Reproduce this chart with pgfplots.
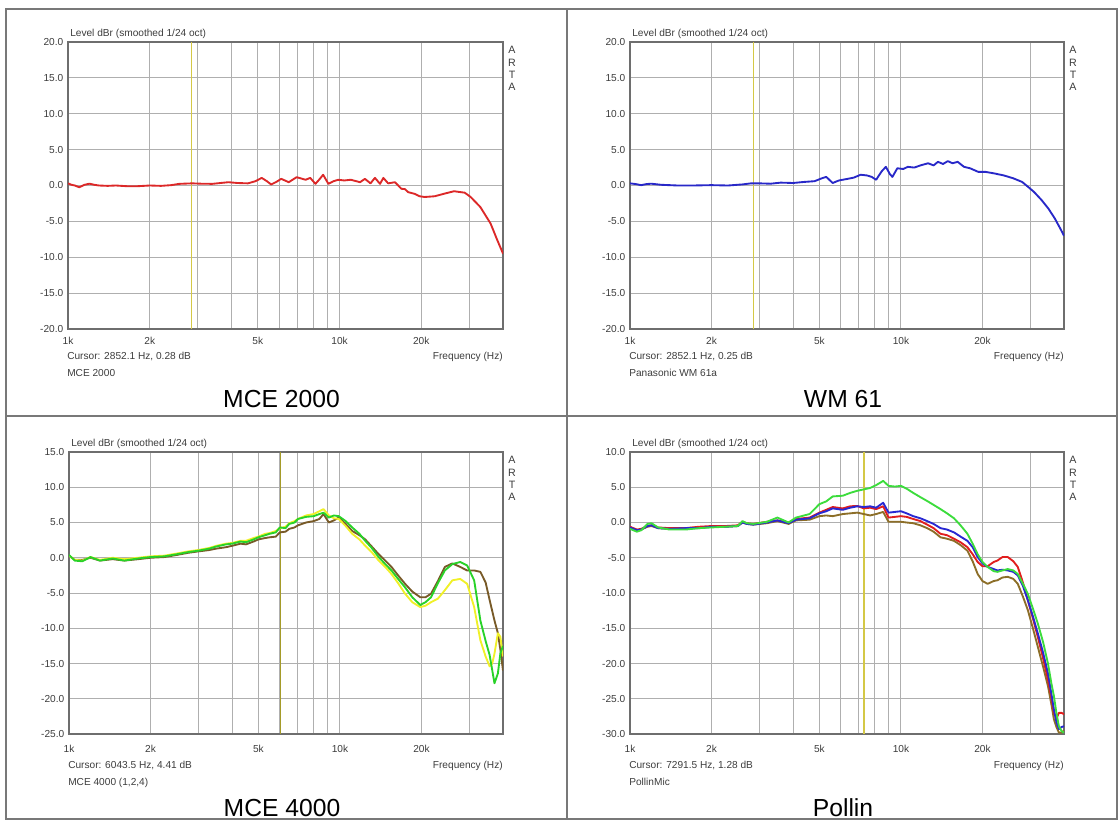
\documentclass[border=0pt]{standalone}
\usepackage{fontspec}
\setmainfont{Liberation Sans}
\usepackage{pgfplots}
\pgfplotsset{compat=1.18}
\def\pu{0.75pt}
\definecolor{axcol}{RGB}{110,110,110}
\definecolor{gridcol}{RGB}{175,175,175}
\definecolor{txtcol}{RGB}{60,60,60}
\definecolor{framecol}{RGB}{120,120,120}
\definecolor{curA}{RGB}{212,200,70}
\definecolor{curB}{RGB}{165,155,40}
\definecolor{redA}{RGB}{220,40,40}
\definecolor{blueA}{RGB}{40,40,200}
\definecolor{yelC}{RGB}{240,240,40}
\definecolor{grnC}{RGB}{40,210,40}
\definecolor{brnC}{RGB}{120,90,40}
\definecolor{grnD}{RGB}{60,220,60}
\definecolor{bluD}{RGB}{40,40,210}
\definecolor{redD}{RGB}{225,30,30}
\definecolor{brnD}{RGB}{140,110,40}
\newcommand{\smallfont}{\fontsize{7.6}{9}\selectfont}
\newcommand{\capfont}{\fontsize{18.5}{20}\selectfont}
\pgfplotsset{
  every axis/.append style={
    xmode=log, xmin=1000, xmax=40000,
    scale only axis, anchor=north west,
    axis line style={draw=axcol, line width=1.1pt},
    grid=major, major grid style={gridcol, line width=0.7pt},
    major tick length=0pt, minor tick length=0pt,
    xtick={1000,2000,3000,4000,5000,6000,7000,8000,9000,10000,20000,30000},
    xticklabels={1k,2k,,,5k,,,,,10k,20k,},
    ticklabel style={font=\smallfont, text=txtcol},
    clip mode=individual,
  },
  every axis plot/.append style={line width=1.4pt, line join=round},
}
\newcommand{\artanotes}[4]{%
  \node[anchor=base west, inner sep=0, font=\smallfont, text=txtcol] at (rel axis cs:0,1) [xshift=2*\pu, yshift=6*\pu] {Level dBr (smoothed 1/24 oct)};
  \node[anchor=north, inner sep=0, font=\fontsize{8}{9.3}\selectfont, text=txtcol, align=center] at (rel axis cs:1,1) [xshift=9*\pu, yshift=-4*\pu] {A\\R\\T\\A};
  \node[anchor=base west, inner sep=0, font=\smallfont, text=txtcol] at (rel axis cs:0,0) [xshift=-1*\pu, yshift=-#4*\pu] {#1};
  \node[anchor=base east, inner sep=0, font=\smallfont, text=txtcol] at (rel axis cs:1,0) [yshift=-#4*\pu] {Frequency (Hz)};
  \node[anchor=base west, inner sep=0, font=\smallfont, text=txtcol] at (rel axis cs:0,0) [xshift=-1*\pu, yshift=-#4*\pu-17*\pu] {#2};
  \node[anchor=base, inner sep=0, font=\capfont, text=black] at (rel axis cs:0.5,0) [xshift=-4*\pu, yshift=-#4*\pu-48*\pu] {#3};
}
\begin{document}
\begin{tikzpicture}
\path[use as bounding box] (0,0) rectangle (1119*\pu,-821*\pu);
\draw[framecol, line width=1.5*\pu] (6*\pu,-9*\pu) rectangle (1117*\pu,-819*\pu);
\draw[framecol, line width=1.5*\pu] (567*\pu,-9*\pu) -- (567*\pu,-819*\pu);
\draw[framecol, line width=1.5*\pu] (6*\pu,-416*\pu) -- (1117*\pu,-416*\pu);

% ---------------- MCE 2000
\begin{axis}[at={(68*\pu,-42*\pu)}, width=435*\pu, height=287*\pu,
  ymin=-20, ymax=20, ytick={-20,-15,...,20},
  yticklabels={-20.0,-15.0,-10.0,-5.0,0.0,5.0,10.0,15.0,20.0},
  xticklabel style={yshift=-2.5pt}]
\addplot[curA, line width=1.6*\pu] coordinates {(2852.1,-20) (2852.1,20)};
\addplot[redA] table {
1000 0.3
1030 0.1
1060 0.0
1100 -0.25
1150 0.1
1200 0.25
1250 0.1
1300 0.0
1400 -0.05
1500 0.0
1650 -0.1
1800 -0.1
2000 0.0
2200 -0.05
2400 0.05
2570 0.23
2870 0.3
3100 0.25
3400 0.23
3650 0.35
3900 0.46
4200 0.35
4600 0.3
4900 0.6
5170 1.06
5400 0.6
5600 0.14
5850 0.5
6100 0.93
6500 0.46
6950 1.16
7500 0.8
7800 1.06
8150 0.23
8450 0.9
8700 1.5
9100 0.23
9500 0.6
9900 0.8
10400 0.7
11000 0.8
11900 0.46
12400 0.93
13000 0.3
13500 1.06
14100 0.23
14500 1.06
15100 0.3
16000 0.46
16900 -0.46
17400 -0.5
17900 -0.93
18900 -1.16
19700 -1.5
20600 -1.6
22400 -1.5
24200 -1.16
26400 -0.8
28900 -1.0
30400 -1.6
33000 -3.0
36000 -5.3
38000 -7.5
40000 -9.5
};
\artanotes{Cursor: 2852.1 Hz, 0.28 dB}{MCE 2000}{MCE 2000}{30}
\end{axis}

% ---------------- WM 61
\begin{axis}[at={(630*\pu,-42*\pu)}, width=434*\pu, height=287*\pu,
  ymin=-20, ymax=20, ytick={-20,-15,...,20},
  yticklabels={-20.0,-15.0,-10.0,-5.0,0.0,5.0,10.0,15.0,20.0},
  xticklabel style={yshift=-2.5pt}]
\addplot[curA, line width=1.6*\pu] coordinates {(2852.1,-20) (2852.1,20)};
\addplot[blueA] table {
1000 0.3
1050 0.2
1100 0.05
1150 0.2
1200 0.25
1300 0.1
1500 0.0
1700 0.0
2000 0.05
2300 0.0
2600 0.15
2800 0.3
3000 0.3
3300 0.25
3600 0.4
4000 0.35
4400 0.5
4800 0.6
5100 1.0
5300 1.2
5600 0.35
5900 0.7
6300 0.9
6700 1.1
7100 1.5
7500 1.4
7800 1.2
8100 0.8
8500 2.0
8800 2.6
9100 1.6
9300 1.2
9700 2.4
10200 2.3
10600 2.6
11200 2.5
11800 2.8
12600 3.1
13200 2.8
13700 3.3
14300 3.0
14900 3.4
15500 3.1
16200 3.3
16700 2.9
17100 2.6
18000 2.4
19300 1.9
20500 1.9
22000 1.7
24000 1.4
26000 1.0
28000 0.5
29500 -0.2
31000 -0.9
33000 -2.0
35000 -3.2
37000 -4.6
39000 -6.2
40000 -7.0
};
\artanotes{Cursor: 2852.1 Hz, 0.25 dB}{Panasonic WM 61a}{WM 61}{30}
\end{axis}

% ---------------- MCE 4000
\begin{axis}[at={(69*\pu,-452*\pu)}, width=434*\pu, height=282*\pu,
  ymin=-25, ymax=15, ytick={-25,-20,...,15},
  yticklabels={-25.0,-20.0,-15.0,-10.0,-5.0,0.0,5.0,10.0,15.0},
  xticklabel style={yshift=-4.5pt}]
\addplot[curB, line width=1.2*\pu] coordinates {(6043.5,-25) (6043.5,15)};
\addplot[brnC] table {
1000 0.3
1050 -0.3
1120 -0.3
1200 0.0
1300 -0.4
1450 -0.2
1600 -0.4
1800 -0.2
2000 0.0
2250 0.1
2500 0.4
2750 0.7
3000 0.9
3300 1.1
3500 1.3
3800 1.5
4000 1.7
4300 2.0
4500 1.9
4800 2.3
5000 2.6
5300 2.8
5500 2.9
5800 3.0
6000 3.6
6300 3.7
6500 4.1
6800 4.3
7000 4.6
7500 5.0
8000 5.2
8400 5.5
8700 6.2
9100 5.0
9500 5.3
9900 5.7
10500 4.8
11100 3.8
11800 3.2
12400 2.6
13100 1.6
13900 0.5
14700 -0.4
15500 -1.3
16400 -2.5
17400 -3.7
18500 -4.8
19800 -5.6
20700 -5.6
21700 -5.1
23000 -3.3
24400 -1.3
26000 -0.8
27800 -1.3
29500 -1.8
31300 -1.8
33000 -2.0
34500 -3.5
35700 -6.0
37200 -8.9
38300 -10.7
39100 -13.0
40000 -16.0
};
\addplot[yelC] table {
1000 0.3
1050 -0.3
1120 -0.4
1200 0.1
1300 -0.3
1450 0.0
1600 -0.2
1800 0.0
2000 0.2
2250 0.3
2500 0.6
2750 0.9
3000 1.1
3300 1.4
3500 1.7
3800 2.0
4000 2.1
4300 2.4
4500 2.4
4800 2.8
5000 3.0
5300 3.4
5500 3.5
5800 3.8
6000 4.2
6300 4.4
6500 4.9
6800 5.2
7000 5.5
7500 6.0
8000 6.2
8400 6.6
8700 6.9
9100 6.0
9500 5.6
9900 5.5
10500 4.5
11100 3.4
11800 2.6
12400 1.7
13100 0.8
13900 -0.4
14700 -1.3
15500 -2.3
16400 -3.6
17400 -5.1
18500 -6.3
19800 -7.0
20700 -6.8
21700 -6.3
23000 -5.8
24400 -4.6
26000 -3.2
27800 -3.0
29500 -3.7
31300 -7.0
33000 -11.7
34500 -14.0
35700 -15.4
36500 -15.0
37200 -13.6
38300 -10.7
39100 -11.2
40000 -14.0
};
\addplot[grnC] table {
1000 0.4
1050 -0.4
1120 -0.5
1200 0.1
1300 -0.4
1450 -0.1
1600 -0.4
1800 -0.1
2000 0.1
2250 0.2
2500 0.5
2750 0.8
3000 1.0
3300 1.3
3500 1.6
3800 1.9
4000 2.0
4300 2.3
4500 2.2
4800 2.6
5000 2.9
5300 3.2
5500 3.4
5800 3.6
6000 4.3
6300 4.2
6500 4.8
6800 5.0
7000 5.5
7500 5.8
8000 5.9
8400 6.2
8700 6.4
9100 5.7
9500 6.0
9900 5.9
10500 5.2
11100 4.3
11800 3.4
12400 2.4
13100 1.4
13900 0.1
14700 -0.9
15500 -1.8
16400 -3.0
17400 -4.2
18500 -5.6
19800 -6.7
20700 -6.3
21700 -5.6
23000 -3.6
24400 -1.8
26000 -0.9
27800 -0.6
29500 -1.1
31300 -3.2
33000 -8.9
34500 -11.8
35700 -13.8
37200 -17.8
38300 -16.4
39100 -13.6
40000 -12.5
};
\artanotes{Cursor: 6043.5 Hz, 4.41 dB}{MCE 4000 (1,2,4)}{MCE 4000}{34}
\end{axis}

% ---------------- Pollin
\begin{axis}[at={(630*\pu,-452*\pu)}, width=434*\pu, height=282*\pu,
  ymin=-30, ymax=10, ytick={-30,-25,...,10},
  yticklabels={-30.0,-25.0,-20.0,-15.0,-10.0,-5.0,0.0,5.0,10.0},
  xticklabel style={yshift=-4.5pt}]
\addplot[curA, line width=2*\pu] coordinates {(7291.5,-30) (7291.5,10)};
\addplot[brnD] table {
1000 -0.8
1060 -1.1
1100 -1.0
1160 -0.6
1200 -0.5
1270 -0.8
1400 -0.9
1600 -0.8
1800 -0.7
2000 -0.6
2250 -0.6
2500 -0.5
2600 0.0
2700 -0.2
2850 -0.3
3200 -0.1
3500 0.2
3850 -0.2
4100 0.3
4600 0.4
5000 0.9
5300 1.0
5600 0.9
6100 1.2
6500 1.3
6900 1.4
7300 1.2
7700 1.0
8100 1.2
8600 1.5
9000 0.1
9500 0.1
10000 0.1
10500 0.0
11100 -0.1
11800 -0.4
12500 -0.8
13200 -1.3
14000 -2.1
14800 -2.3
15700 -2.6
16600 -3.2
17600 -4.0
18400 -5.5
19200 -7.3
20000 -8.3
20900 -8.7
22000 -8.3
22700 -8.2
23700 -7.8
24800 -7.7
26000 -8.0
27000 -8.7
28200 -10.5
29400 -12.4
30700 -15.0
32000 -17.6
33500 -20.5
34900 -23.2
36000 -26.0
36700 -27.9
37500 -29.0
38300 -29.8
39200 -29.8
40000 -29.5
};
\addplot[redD] table {
1000 -0.6
1060 -1.0
1100 -0.9
1160 -0.5
1200 -0.4
1270 -0.7
1400 -0.8
1600 -0.8
1800 -0.6
2000 -0.5
2250 -0.5
2500 -0.4
2600 0.1
2700 -0.1
2850 -0.2
3200 0.1
3500 0.3
3850 0.0
4100 0.5
4600 0.7
5000 1.4
5300 1.8
5600 2.2
6100 2.0
6500 2.3
6900 2.35
7300 2.0
7700 2.1
8100 1.9
8600 2.3
9000 0.7
9500 0.8
10000 0.9
10500 0.8
11100 0.5
11800 0.2
12500 -0.3
13200 -0.8
14000 -1.6
14800 -1.8
15700 -2.3
16600 -2.8
17600 -3.5
18400 -4.5
19200 -5.6
20000 -6.2
20900 -6.2
22000 -5.6
22700 -5.4
23700 -4.9
24800 -4.9
26000 -5.5
27000 -6.3
28200 -8.5
29400 -11.0
30700 -13.6
32000 -16.2
33500 -19.3
34900 -22.3
36000 -25.0
36700 -27.0
37500 -27.8
38300 -27.0
39200 -27.0
40000 -27.2
};
\addplot[bluD] table {
1000 -0.7
1060 -1.1
1100 -1.0
1160 -0.5
1200 -0.4
1270 -0.8
1400 -0.9
1600 -0.8
1800 -0.8
2000 -0.6
2250 -0.6
2500 -0.5
2600 0.0
2700 -0.2
2850 -0.3
3200 0.0
3500 0.3
3850 -0.1
4100 0.4
4600 0.6
5000 1.3
5300 1.6
5600 2.0
6100 1.8
6500 2.1
6900 2.3
7300 2.2
7700 2.3
8100 2.1
8600 2.8
9000 1.4
9500 1.5
10000 1.6
10500 1.3
11100 0.9
11800 0.6
12500 0.2
13200 -0.2
14000 -0.8
14800 -1.0
15700 -1.4
16600 -2.0
17600 -2.6
18400 -3.5
19200 -4.9
20000 -5.8
20900 -6.3
22000 -6.6
22700 -6.8
23700 -6.7
24800 -6.8
26000 -7.0
27000 -7.5
28200 -9.0
29400 -11.0
30700 -13.3
32000 -15.7
33500 -18.5
34900 -21.4
36000 -24.5
36700 -26.5
37500 -28.3
38300 -29.3
39200 -29.0
40000 -28.9
};
\addplot[grnD] table {
1000 -0.9
1060 -1.3
1100 -1.1
1160 -0.2
1200 -0.1
1270 -0.7
1400 -1.0
1600 -1.0
1800 -0.8
2000 -0.7
2250 -0.6
2500 -0.5
2600 0.2
2700 -0.1
2850 -0.2
3200 0.1
3500 0.7
3850 0.0
4100 0.7
4600 1.2
5000 2.6
5300 3.0
5600 3.7
6100 3.8
6500 4.2
6900 4.5
7300 4.7
7700 4.9
8100 5.3
8600 5.9
9000 5.2
9500 5.1
10000 5.2
10500 4.8
11100 4.2
11800 3.6
12500 3.05
13200 2.5
14000 1.9
14800 1.3
15700 0.6
16600 -0.4
17600 -1.6
18400 -3.0
19200 -4.5
20000 -5.6
20900 -6.3
22000 -6.9
22700 -7.0
23700 -6.8
24800 -6.6
26000 -6.8
27000 -7.3
28200 -8.7
29400 -10.1
30700 -12.2
32000 -14.3
33500 -17.0
34900 -20.0
36000 -23.0
36700 -24.6
37500 -27.0
38300 -28.9
39200 -29.6
40000 -29.8
};
\artanotes{Cursor: 7291.5 Hz, 1.28 dB}{PollinMic}{Pollin}{34}
\end{axis}
\end{tikzpicture}
\end{document}
